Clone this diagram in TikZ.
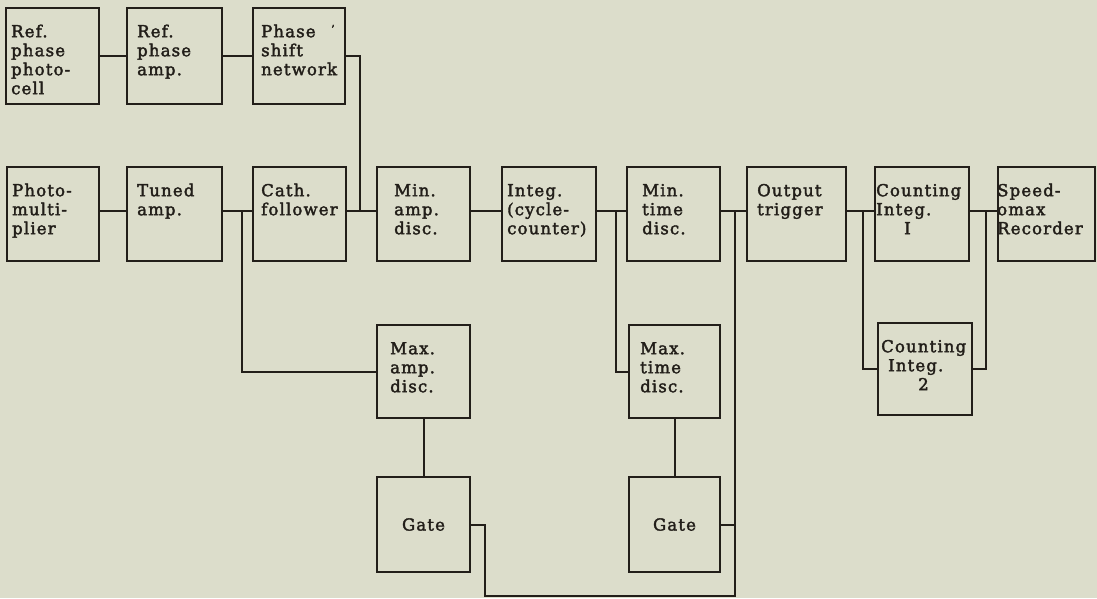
\documentclass[tikz,border=0pt]{standalone}
\usepackage{fontspec}
\setmainfont{DejaVu Serif}[LetterSpace=7,FakeBold=2.2]
\usetikzlibrary{fit}
\definecolor{bg}{RGB}{220,221,203}
\definecolor{ink}{RGB}{34,30,25}
\begin{document}
\begin{tikzpicture}[x=1pt,y=-1pt,
  box/.style={draw=ink, line width=2pt, inner sep=0pt},
  lbl/.style={anchor=north west, inner sep=0pt, align=left, text=ink, font=\fontsize{16.5}{19}\selectfont},
  glbl/.style={inner sep=0pt, text=ink, font=\fontsize{16.5}{19}\selectfont},
  wire/.style={draw=ink, line width=2pt, line join=miter, line cap=rect}]
\fill[bg] (0,0) rectangle (1097,598);
\useasboundingbox (0,0) rectangle (1097,598);
% top row
\node[box, fit={(6,8)(99,104)}] (refcell) {};
\node[box, fit={(127,8)(222,104)}] (refamp) {};
\node[box, fit={(253,8)(345,104)}] (phase) {};
% middle row
\node[box, fit={(7,167)(99,261)}] (photo) {};
\node[box, fit={(127,167)(222,261)}] (tuned) {};
\node[box, fit={(253,167)(346,261)}] (cath) {};
\node[box, fit={(377,167)(470,261)}] (minamp) {};
\node[box, fit={(502,167)(596,261)}] (integ) {};
\node[box, fit={(627,167)(720,261)}] (mintime) {};
\node[box, fit={(747,167)(846,261)}] (output) {};
\node[box, fit={(875,167)(969,261)}] (count1) {};
\node[box, fit={(998,167)(1095,261)}] (speed) {};
% lower rows
\node[box, fit={(377,325)(470,418)}] (maxamp) {};
\node[box, fit={(629,325)(720,418)}] (maxtime) {};
\node[box, fit={(878,323)(972,415)}] (count2) {};
\node[box, fit={(377,477)(470,572)}] (gate1) {};
\node[box, fit={(629,477)(720,572)}] (gate2) {};
% labels
\node[lbl] (refcellT) at ([shift={(6,16.7)}]refcell.north west) {\strut Ref.\\phase\\photo-\\cell};
\node[lbl] (refampT) at ([shift={(11,16.7)}]refamp.north west) {\strut Ref.\\phase\\amp.};
\node[lbl] (phaseT) at ([shift={(9,16.7)}]phase.north west) {\strut Phase\\shift\\network};
\node[glbl] (tick) at (333,29) {\fontsize{11}{11}\selectfont '};
\node[lbl] (photoT) at ([shift={(6,16.7)}]photo.north west) {\strut Photo-\\multi-\\plier};
\node[lbl] (tunedT) at ([shift={(11,16.7)}]tuned.north west) {\strut Tuned\\amp.};
\node[lbl] (cathT) at ([shift={(9,16.7)}]cath.north west) {\strut Cath.\\follower};
\node[lbl] (minampT) at ([shift={(18,16.7)}]minamp.north west) {\strut Min.\\amp.\\disc.};
\node[lbl] (integT) at ([shift={(6,16.7)}]integ.north west) {\strut Integ.\\(cycle-\\counter)};
\node[lbl] (mintimeT) at ([shift={(16,16.7)}]mintime.north west) {\strut Min.\\time\\disc.};
\node[lbl] (outputT) at ([shift={(11,16.7)}]output.north west) {\strut Output\\trigger};
\node[lbl] (count1T) at ([shift={(2,16.7)}]count1.north west) {\strut Counting\\Integ.\\\hspace*{28pt}I};
\node[lbl] (speedT) at ([shift={(0,16.7)}]speed.north west) {\strut Speed-\\omax\\Recorder};
\node[lbl] (maxampT) at ([shift={(14,16.7)}]maxamp.north west) {\strut Max.\\amp.\\disc.};
\node[lbl] (maxtimeT) at ([shift={(12,16.7)}]maxtime.north west) {\strut Max.\\time\\disc.};
\node[lbl] (count2T) at ([shift={(4,16.7)}]count2.north west) {\strut Counting\\\hspace*{7pt}Integ.\\\hspace*{37pt}2};
\node[glbl] (gate1T) at (gate1) {Gate};
\node[glbl] (gate2T) at (gate2) {Gate};
% junction coordinates
\coordinate (ym) at (0,211);
\coordinate (jp) at (360,211);
\coordinate (ja) at (242,211);
\coordinate (jb) at (616,211);
\coordinate (jc) at (735,211);
\coordinate (jd) at (863,211);
\coordinate (je) at (986,211);
\coordinate (jg) at (485,596);
% connectors
\draw[wire] (refcell.east) -- (refamp.west);
\draw[wire] (refamp.east) -- (phase.west);
\draw[wire] (phase.east) -| (jp);
\draw[wire] (photo.east |- ym) -- (tuned.west |- ym);
\draw[wire] (tuned.east |- ym) -- (cath.west |- ym);
\draw[wire] (cath.east |- ym) -- (minamp.west |- ym);
\draw[wire] (minamp.east |- ym) -- (integ.west |- ym);
\draw[wire] (integ.east |- ym) -- (mintime.west |- ym);
\draw[wire] (mintime.east |- ym) -- (output.west |- ym);
\draw[wire] (output.east |- ym) -- (count1.west |- ym);
\draw[wire] (count1.east |- ym) -- (speed.west |- ym);
\draw[wire] (ja) |- (maxamp.west);
\draw[wire] (jb) |- (maxtime.west);
\draw[wire] (jd) |- (count2.west);
\draw[wire] (count2.east) -| (je);
\draw[wire] (maxamp.south) -- (gate1.north);
\draw[wire] (maxtime.south) -- (gate2.north);
\draw[wire] (gate1.east) -| (jg) -| (jc);
\draw[wire] (gate2.east) -- (gate2.east -| jc);
\end{tikzpicture}
\end{document}
